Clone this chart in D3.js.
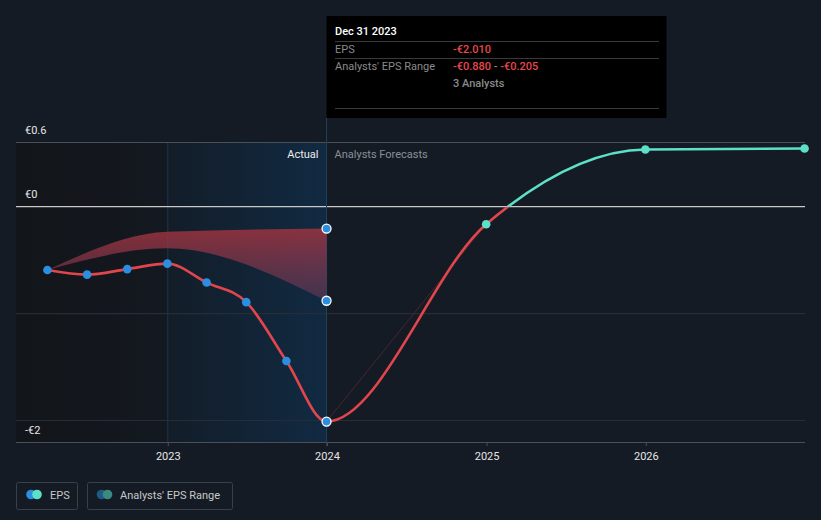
<!DOCTYPE html>
<html><head><meta charset="utf-8">
<script src="https://cdn.jsdelivr.net/npm/d3@7"></script>
<style>
html,body{margin:0;padding:0;background:#151b25;}
svg{display:block;font-family:Roboto,"Open Sans",sans-serif;}
</style></head>
<body><svg id="c" width="821" height="520"></svg>
<script>
// ---- data ----
const actualDates = ["2022-03-31","2022-06-30","2022-09-30","2022-12-31","2023-03-31","2023-06-30","2023-09-30","2023-12-31"];
const actualEPS   = [-0.593, -0.636, -0.584, -0.533, -0.710, -0.893, -1.444, -2.010];
const forecastDates = ["2023-12-31","2024-12-31","2025-12-31","2026-12-31"];
const forecastEPS   = [-2.010, -0.164, 0.535, 0.544];
const rangeDates = ["2022-03-31","2022-12-31","2023-12-31"];
const rangeLow   = [-0.593, -0.390, -0.880];
const rangeHigh  = [-0.593, -0.235, -0.205];
const yLabelTicks = [0.6, 0, -2];
const yLabelText  = ["€0.6","€0","-€2"];
const yGridExtra  = [-1];
const xTickYears  = [2023, 2024, 2025, 2026];

const parse = d3.timeParse("%Y-%m-%d");
const svg = d3.select("#c");
const W = 821, H = 520;
const left = 16, right = 805, axisY = 442;
const x = d3.scaleTime().domain([new Date(2022,0,18), new Date(2027,0,1)]).range([left, right]);
const y = d3.scaleLinear().domain([-2, 0.6]).range([420.5, 142.5]);

const defs = svg.append("defs");
const g1 = defs.append("linearGradient").attr("id","pastBg").attr("x1","0").attr("x2","1").attr("y1","0").attr("y2","0");
g1.append("stop").attr("offset","0").attr("stop-color","#121519");
g1.append("stop").attr("offset","1").attr("stop-color","#141820");
const g2 = defs.append("linearGradient").attr("id","actBg").attr("x1","0").attr("x2","1").attr("y1","0").attr("y2","0");
g2.append("stop").attr("offset","0").attr("stop-color","#131d29");
g2.append("stop").attr("offset","1").attr("stop-color","#112a42");
const g3 = defs.append("linearGradient").attr("id","bandG").attr("gradientUnits","userSpaceOnUse")
  .attr("x1",0).attr("x2",0).attr("y1",y(-0.2)).attr("y2",y(-0.9));
g3.append("stop").attr("offset","0").attr("stop-color","#a8343f").attr("stop-opacity",0.8);
g3.append("stop").attr("offset","1").attr("stop-color","#7a4060").attr("stop-opacity",0.45);

const x2023 = x(new Date(2023,0,1)), xNow = x(parse("2023-12-31"));
// background regions
svg.append("rect").attr("x",left).attr("y",y(0.6)).attr("width",x2023-left).attr("height",axisY-y(0.6)).attr("fill","url(#pastBg)");
svg.append("rect").attr("x",x2023).attr("y",y(0.6)).attr("width",xNow-x2023).attr("height",axisY-y(0.6)).attr("fill","url(#actBg)");
svg.append("line").attr("x1",x2023).attr("x2",x2023).attr("y1",y(0.6)).attr("y2",axisY).attr("stroke","#1e3348").attr("stroke-width",1);

// grid
svg.append("line").attr("x1",left).attr("x2",right).attr("y1",y(0.6)).attr("y2",y(0.6)).attr("stroke","#4a5059").attr("stroke-width",1);
yGridExtra.concat([-2]).forEach(v=>{
  svg.append("line").attr("x1",left).attr("x2",right).attr("y1",y(v)).attr("y2",y(v)).attr("stroke","#262d37").attr("stroke-width",1.2);
});
svg.append("line").attr("x1",left).attr("x2",right).attr("y1",y(0)).attr("y2",y(0)).attr("stroke","#c8c8c8").attr("stroke-width",1.3);

// y labels
yLabelTicks.forEach((v,i)=>{
  const yy = v === -2 ? y(v)+13 : y(v)-9;
  svg.append("text").attr("x",25).attr("y",yy).attr("fill","#e6e6e6").attr("font-size",11).text(yLabelText[i]);
});

// x axis
const xAxis = d3.axisBottom(x).tickValues(xTickYears.map(yr=>new Date(yr,0,1))).tickFormat(d3.timeFormat("%Y")).tickSize(4).tickPadding(6);
const ax = svg.append("g").attr("transform",`translate(0,${axisY})`).call(xAxis);
ax.select(".domain").attr("stroke","#4a5059").attr("d",`M${left},0.5H${right}`);
ax.selectAll(".tick line").attr("stroke","#4a5059");
ax.selectAll(".tick text").attr("fill","#e6e6e6").attr("font-size",11).attr("font-family","Roboto,sans-serif");

// now line
svg.append("line").attr("x1",xNow).attr("x2",xNow).attr("y1",118).attr("y2",axisY+4).attr("stroke","#24415c").attr("stroke-width",1);

// labels Actual / Analysts Forecasts
svg.append("text").attr("x",xNow-8).attr("y",158).attr("text-anchor","end").attr("fill","#eeeeee").attr("font-size",11).text("Actual");
svg.append("text").attr("x",xNow+8).attr("y",158).attr("fill","#8a8f96").attr("font-size",11).text("Analysts Forecasts");

// range band
const rangeData = rangeDates.map((d,i)=>({d:parse(d), lo:rangeLow[i], hi:rangeHigh[i]}));
svg.append("path").datum(rangeData)
  .attr("d", d3.area().curve(d3.curveMonotoneX).x(d=>x(d.d)).y0(d=>y(d.lo)).y1(d=>y(d.hi)))
  .attr("fill","url(#bandG)");

// faint forecast range line
const fr = [{d:parse(forecastDates[0]), v:forecastEPS[0]},{d:parse(forecastDates[1]), v:forecastEPS[1]}];
svg.append("path").datum(fr).attr("d", d3.line().x(d=>x(d.d)).y(d=>y(d.v)))
  .attr("stroke","#5a2a33").attr("stroke-width",1).attr("fill","none").attr("opacity",0.7);

// EPS line (actual + forecast), red below 0, teal above
const all = actualDates.map((d,i)=>({d:parse(d), v:actualEPS[i]}))
  .concat(forecastDates.slice(1).map((d,i)=>({d:parse(d), v:forecastEPS[i+1]})));
defs.append("clipPath").attr("id","above").append("rect").attr("x",0).attr("y",0).attr("width",W).attr("height",y(0));
defs.append("clipPath").attr("id","below").append("rect").attr("x",0).attr("y",y(0)).attr("width",W).attr("height",H);
const lineGen = d3.line().curve(d3.curveMonotoneX).x(d=>x(d.d)).y(d=>y(d.v));
svg.append("path").datum(all).attr("d",lineGen).attr("fill","none").attr("stroke","#e0464c").attr("stroke-width",2.6).attr("clip-path","url(#below)");
svg.append("path").datum(all).attr("d",lineGen).attr("fill","none").attr("stroke","#5ce0c8").attr("stroke-width",2.6).attr("clip-path","url(#above)");

// actual dots
actualDates.forEach((d,i)=>{
  const last = i === actualDates.length-1;
  svg.append("circle").attr("cx",x(parse(d))).attr("cy",y(actualEPS[i])).attr("r",last?4.5:4.3)
    .attr("fill","#2b8ee0").attr("stroke",last?"#ffffff":"none").attr("stroke-width",1.3);
});
// range end dots
[rangeHigh[2], rangeLow[2]].forEach(v=>{
  svg.append("circle").attr("cx",x(parse(rangeDates[2]))).attr("cy",y(v)).attr("r",4.5)
    .attr("fill","#2b8ee0").attr("stroke","#ffffff").attr("stroke-width",1.3);
});
// forecast dots
forecastDates.slice(1).forEach((d,i)=>{
  svg.append("circle").attr("cx",x(parse(d))).attr("cy",y(forecastEPS[i+1])).attr("r",4.3).attr("fill","#5ce0c8");
});

// tooltip
const tt = svg.append("g");
tt.append("rect").attr("x",xNow).attr("y",16).attr("width",340).attr("height",102).attr("fill","#000000");
tt.append("text").attr("x",335).attr("y",35).attr("fill","#ffffff").attr("font-size",11).attr("font-weight",500).text("Dec 31 2023");
[41.5,58.5,108.5].forEach(yy=>tt.append("line").attr("x1",335).attr("x2",659).attr("y1",yy).attr("y2",yy).attr("stroke","#3a3a3a").attr("stroke-width",1));
tt.append("text").attr("x",335).attr("y",53).attr("fill","#8a8a8a").attr("font-size",11).text("EPS");
tt.append("text").attr("x",453).attr("y",53).attr("fill","#e8474d").attr("font-size",11).attr("font-weight",500).text("-€" + Math.abs(actualEPS[7]).toFixed(3));
tt.append("text").attr("x",335).attr("y",70).attr("fill","#8a8a8a").attr("font-size",11).text("Analysts' EPS Range");
const rt = tt.append("text").attr("x",453).attr("y",70).attr("font-size",11).attr("font-weight",500);
rt.append("tspan").attr("fill","#e8474d").text("-€" + Math.abs(rangeLow[2]).toFixed(3));
rt.append("tspan").attr("fill","#8a8a8a").text(" - ");
rt.append("tspan").attr("fill","#e8474d").text("-€" + Math.abs(rangeHigh[2]).toFixed(3));
tt.append("text").attr("x",453).attr("y",87).attr("fill","#8a8a8a").attr("font-size",11).attr("font-weight",500).text("3 Analysts");

// legend
const lg = svg.append("g");
lg.append("rect").attr("x",16.5).attr("y",482.5).attr("width",61).attr("height",27).attr("rx",2).attr("fill","none").attr("stroke","#3a414b");
lg.append("circle").attr("cx",31).attr("cy",494.5).attr("r",4.8).attr("fill","#2b8ee0");
lg.append("circle").attr("cx",37).attr("cy",494.5).attr("r",4.8).attr("fill","#5ce0c8");
lg.append("text").attr("x",50).attr("y",498.5).attr("fill","#c8c8c8").attr("font-size",11).text("EPS");
lg.append("rect").attr("x",87.5).attr("y",482.5).attr("width",145).attr("height",27).attr("rx",2).attr("fill","none").attr("stroke","#3a414b");
lg.append("circle").attr("cx",101.5).attr("cy",494.5).attr("r",4.8).attr("fill","#1f5985");
lg.append("circle").attr("cx",107.5).attr("cy",494.5).attr("r",4.8).attr("fill","#3a8a80");
lg.append("text").attr("x",120).attr("y",498.5).attr("fill","#c8c8c8").attr("font-size",11).text("Analysts' EPS Range");
</script></body></html>
